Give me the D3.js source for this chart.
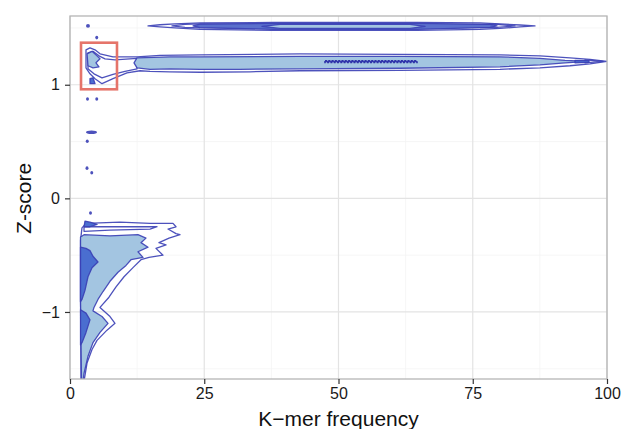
<!DOCTYPE html>
<html>
<head>
<meta charset="utf-8">
<script src="https://cdn.jsdelivr.net/npm/d3@7"></script>
<style>
  body { margin: 0; background: #fff; }
  text { font-family: "Liberation Sans", Arial, sans-serif; }
</style>
</head>
<body>
<div id="chart"></div>
<script>
// tick values
const xTicks = [0, 25, 50, 75, 100];
const xMinor = [12.5, 37.5, 62.5, 87.5];
const yTicks = [-1, 0, 1];
const yMinor = [-1.5, -0.5, 0.5, 1.5];

// contour outlines, [k-mer frequency, z-score]
// lowest level: outline only
const outerLow = [[2.05,-1.61],[1.96,-0.89],[1.96,-0.37],[2.23,-0.26],[2.98,-0.22],[9.31,-0.21],[14.9,-0.22],[19.18,-0.22],
  [19.74,-0.25],[18.25,-0.27],[19.74,-0.31],[20.48,-0.32],[18.44,-0.35],[16.57,-0.39],[17.88,-0.41],[16.01,-0.44],
  [17.32,-0.5],[14.71,-0.52],[13.22,-0.54],[11.73,-0.61],[10.06,-0.69],[8.57,-0.78],[7.26,-0.87],[5.59,-0.96],
  [7.45,-1.04],[8.38,-1.1],[6.89,-1.16],[5.03,-1.25],[4.1,-1.33],[3.17,-1.45],[2.61,-1.61]];
const outerBand = [[2.98,1.307],[3.72,1.325],[4.66,1.307],[5.59,1.272],[8.01,1.246],[12.48,1.246],[16.76,1.259],[24.21,1.263],
  [42.83,1.272],[61.45,1.268],[80.07,1.263],[87.52,1.254],[93.11,1.237],[96.83,1.224],[100,1.206],[96.83,1.184],
  [93.11,1.167],[87.52,1.149],[80.07,1.136],[61.45,1.127],[42.83,1.123],[33.52,1.114],[24.21,1.11],[18.62,1.114],
  [14.9,1.118],[13.04,1.123],[10.61,1.105],[8.01,1.053],[5.96,1.009],[4.66,1.053],[3.72,1.096],[2.98,1.149]];
const outerTop = [[14.53,1.518],[16.76,1.528],[19.55,1.535],[24.21,1.544],[37.8,1.548],[64.62,1.548],[76.35,1.544],
  [80.07,1.535],[83.8,1.526],[86.59,1.518],[83.8,1.509],[80.07,1.496],[76.35,1.487],[64.62,1.478],[37.8,1.478],
  [24.21,1.487],[19.55,1.5],[16.76,1.509]];

// second level: outline only
const midLow = [[2.61,-0.25],[9.31,-0.25],[16.2,-0.25],[14.9,-0.27],[7.45,-0.28],[2.61,-0.29]];
const midBand = [[3.35,1.281],[4.28,1.294],[5.4,1.254],[6.52,1.228],[8.38,1.219],[12.48,1.232],[12.48,1.14],
  [10.24,1.118],[8.01,1.092],[5.96,1.061],[4.47,1.096],[3.35,1.14]];
const midBandEnd = [[95.9,1.219],[99.26,1.206],[95.9,1.193]];
const midTop = [[18.99,1.518],[21.42,1.531],[24.21,1.535],[79.52,1.531],[82.87,1.518],[79.52,1.504],[24.21,1.5],[21.42,1.504]];

// third level: light fill
const lightLow = [[2.14,-1.61],[1.96,-0.89],[1.96,-0.34],[2.61,-0.32],[7.45,-0.33],[12.66,-0.32],[14.15,-0.35],
  [13.22,-0.39],[14.53,-0.43],[12.66,-0.47],[13.59,-0.52],[11.36,-0.54],[10.43,-0.59],[8.94,-0.65],[7.45,-0.73],
  [6.15,-0.82],[5.21,-0.89],[4.47,-0.96],[4.28,-0.99],[5.96,-1.04],[7.08,-1.1],[5.59,-1.18],[4.28,-1.27],
  [3.35,-1.39],[2.61,-1.54],[2.42,-1.61]];
const lightBand = [[12.48,1.237],[18.62,1.246],[24.21,1.246],[42.83,1.25],[61.45,1.25],[80.07,1.246],[87.52,1.232],
  [92.18,1.215],[96.46,1.206],[92.18,1.193],[87.52,1.175],[80.07,1.158],[61.45,1.145],[42.83,1.14],[31.66,1.136],
  [24.21,1.136],[18.62,1.14],[14.9,1.136],[12.48,1.149],[11.92,1.193]];
const lightBox = [[3.17,1.272],[4.1,1.294],[5.03,1.254],[5.59,1.228],[4.84,1.193],[5.4,1.158],[4.28,1.149],[3.35,1.167]];
const midFillTop = [[22.91,1.518],[24.21,1.533],[37.8,1.54],[64.62,1.54],[78.21,1.531],[79.52,1.518],[78.21,1.504],
  [64.62,1.487],[37.8,1.487],[24.21,1.502]];
const lightTop = [[35.75,1.514],[39.11,1.531],[63.31,1.531],[66.11,1.514],[63.31,1.496],[39.11,1.496]];

// highest level: dark fill
const darkLow1 = [[1.96,-0.43],[2.98,-0.44],[3.72,-0.46],[4.28,-0.51],[5.21,-0.56],[4.1,-0.61],[3.35,-0.69],
  [2.79,-0.81],[2.23,-0.89],[1.96,-0.91]];
const darkLow2 = [[1.96,-0.98],[2.98,-1.01],[3.72,-1.07],[2.98,-1.18],[2.23,-1.27],[1.96,-1.29]];
const darkLowTop = [[2.61,-0.25],[2.79,-0.2],[3.72,-0.21],[5.03,-0.23],[3.72,-0.25]];
const darkBox = [[3.72,1.053],[4.28,1.061],[4.66,1.009],[3.72,1.009]];
const darkBand = [[47.49,1.211],[64.62,1.211],[64.62,1.197],[47.49,1.197]];
const darkBandEnd = [[94.04,1.215],[96.65,1.211],[96.65,1.197],[94.04,1.193]];

// tiny islands: [x from, x to, z-score]
const islands = [[2.98,3.72,1.518],[4.84,5.12,1.415],[2.98,3.54,0.875],[4.84,5.12,0.875],[2.98,5.03,0.582],
  [2.98,3.45,0.503],[2.98,3.35,0.266],[3.91,4.19,0.225],[3.54,4.1,-0.129]];

// highlighted box: [x0, x1, y0, y1]
const highlight = [2.05, 8.75, 0.96, 1.37];

const width = 624, height = 429;
const margin = {top: 16, right: 17, bottom: 50, left: 70};
const w = width - margin.left - margin.right;
const h = height - margin.top - margin.bottom;

const svg = d3.select("#chart").append("svg")
  .attr("width", width).attr("height", height);
const g = svg.append("g").attr("transform", `translate(${margin.left},${margin.top})`);

const x = d3.scaleLinear().domain([0, 100]).range([0, w]);
const y = d3.scaleLinear().domain([-1.59, 1.605]).range([h, 0]);

// grid
g.selectAll(".xminor").data(xMinor).enter().append("line")
  .attr("x1", d => x(d)).attr("x2", d => x(d)).attr("y1", 0).attr("y2", h)
  .attr("stroke", "#f2f2f2").attr("stroke-width", 0.7);
g.selectAll(".yminor").data(yMinor).enter().append("line")
  .attr("y1", d => y(d)).attr("y2", d => y(d)).attr("x1", 0).attr("x2", w)
  .attr("stroke", "#f2f2f2").attr("stroke-width", 0.7);
g.selectAll(".xmajor").data(xTicks).enter().append("line")
  .attr("x1", d => x(d)).attr("x2", d => x(d)).attr("y1", 0).attr("y2", h)
  .attr("stroke", "#e3e3e3").attr("stroke-width", 1.2);
g.selectAll(".ymajor").data(yTicks).enter().append("line")
  .attr("y1", d => y(d)).attr("y2", d => y(d)).attr("x1", 0).attr("x2", w)
  .attr("stroke", "#e3e3e3").attr("stroke-width", 1.2);

svg.append("clipPath").attr("id", "panel")
  .append("rect").attr("width", w).attr("height", h);

const plot = g.append("g").attr("clip-path", "url(#panel)");
const line = d3.line().x(d => x(d[0])).y(d => y(d[1])).curve(d3.curveLinearClosed);
const stroke = "#3a3fb5";

function draw(polys, fill, sw) {
  plot.selectAll(null).data(polys).enter().append("path")
    .attr("d", line)
    .attr("fill", fill)
    .attr("stroke", stroke)
    .attr("stroke-width", sw)
    .attr("stroke-linejoin", "round")
    .attr("stroke-opacity", 0.9);
}

draw([outerLow, outerBand, outerTop], "none", 1.3);
draw([midLow, midBand, midBandEnd, midTop], "none", 1.3);
draw([midFillTop], "#5b70cc", 1.3);
draw([lightLow, lightBand, lightBox, lightTop], "#a3c5e1", 1.3);
draw([darkLow1, darkLow2, darkLowTop, darkBox, darkBandEnd], "#4a6ed0", 1.3);

plot.selectAll(null).data([darkBand]).enter().append("path")
  .attr("d", line).attr("fill", "#3a3fb5").attr("stroke", "#2f33a8")
  .attr("stroke-width", 1.6).attr("stroke-dasharray", "2,1.3");

plot.selectAll(".island").data(islands).enter().append("ellipse")
  .attr("cx", d => (x(d[0]) + x(d[1])) / 2)
  .attr("cy", d => y(d[2]))
  .attr("rx", d => Math.max(1.5, (x(d[1]) - x(d[0])) / 2))
  .attr("ry", 1.8)
  .attr("fill", "#3a3fb5").attr("fill-opacity", 0.9);

// panel border
g.append("rect").attr("width", w).attr("height", h)
  .attr("fill", "none").attr("stroke", "#b5b5b5").attr("stroke-width", 1.3);

// highlight box
g.append("rect")
  .attr("x", x(highlight[0])).attr("y", y(highlight[3]))
  .attr("width", x(highlight[1]) - x(highlight[0]))
  .attr("height", y(highlight[2]) - y(highlight[3]))
  .attr("fill", "none").attr("stroke", "#e5746a").attr("stroke-width", 2.6);

// axes
const xAxis = g.append("g").attr("transform", `translate(0,${h})`)
  .call(d3.axisBottom(x).tickValues(xTicks).tickSize(5).tickPadding(4).tickFormat(d3.format("d")));
const yAxis = g.append("g")
  .call(d3.axisLeft(y).tickValues(yTicks).tickSize(5).tickPadding(5).tickFormat(d => d < 0 ? "\u2212" + Math.abs(d) : d));
[xAxis, yAxis].forEach(a => {
  a.select(".domain").remove();
  a.selectAll(".tick line").attr("stroke", "#333").attr("stroke-width", 1.2);
  a.selectAll(".tick text").attr("fill", "#1a1a1a").style("font-size", "16px");
});

svg.append("text")
  .attr("x", margin.left + w / 2).attr("y", 426)
  .attr("text-anchor", "middle").style("font-size", "21px").attr("fill", "#111")
  .text("K\u2212mer frequency");

svg.append("text")
  .attr("transform", `translate(31,${y(0) + margin.top}) rotate(-90)`)
  .attr("text-anchor", "middle").style("font-size", "21px").attr("fill", "#111")
  .text("Z-score");
</script>
</body>
</html>
